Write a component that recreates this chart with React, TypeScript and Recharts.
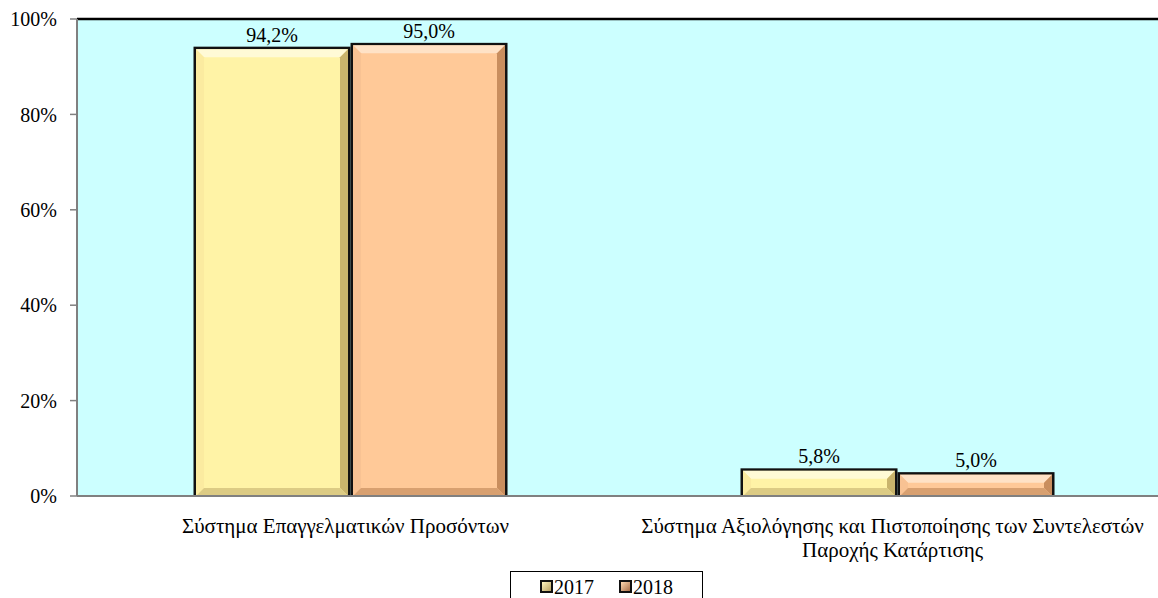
import React from 'react'
import {
  BarChart, Bar, XAxis, YAxis, CartesianGrid, Legend, LabelList, ReferenceLine,
} from 'recharts'

// ── Data ──────────────────────────────────────────────────────────────────────

const categories = [
  'Σύστημα Επαγγελματικών Προσόντων',
  'Σύστημα Αξιολόγησης και Πιστοποίησης των Συντελεστών Παροχής Κατάρτισης',
]
const values2017 = [94.2, 5.8]
const values2018 = [95.0, 5.0]
const yTicks = [0, 20, 40, 60, 80, 100]

const data = categories.map((c, i) => ({ name: c, y2017: values2017[i], y2018: values2018[i] }))

const FONT = 'Liberation Serif'
const FS = 20

const PALETTE = {
  y2017: { face: '#FFF3A6', light: '#FFFAD6', left: '#FBEBA0', right: '#C9B46C', bottom: '#DCCB84' },
  y2018: { face: '#FFC998', light: '#FFE2C6', left: '#F8C293', right: '#C98E5E', bottom: '#D8A070' },
}

const pct = (v: number) => v.toFixed(1).replace('.', ',') + '%'

// ── Bevelled bar ──────────────────────────────────────────────────────────────

function makeBevelBar(p: typeof PALETTE.y2017) {
  return (props: any) => {
    const { x, y, width, height } = props
    if (!width || height <= 0) return <g />
    const b = 2.5
    const ix = x + b, iy = y + b, iw = width - 2 * b, ih = height - b
    const bv = Math.min(8, iw / 4, ih / 2.5)
    return (
      <g>
        <rect x={x} y={y} width={width} height={height} fill="#111" />
        <rect x={ix} y={iy} width={iw} height={ih} fill={p.face} />
        <polygon points={`${ix},${iy} ${ix + iw},${iy} ${ix + iw - bv},${iy + bv} ${ix + bv},${iy + bv}`} fill={p.light} />
        <polygon points={`${ix},${iy} ${ix + bv},${iy + bv} ${ix + bv},${iy + ih - bv} ${ix},${iy + ih}`} fill={p.left} />
        <polygon points={`${ix + iw},${iy} ${ix + iw},${iy + ih} ${ix + iw - bv},${iy + ih - bv} ${ix + iw - bv},${iy + bv}`} fill={p.right} />
        <polygon points={`${ix},${iy + ih} ${ix + bv},${iy + ih - bv} ${ix + iw - bv},${iy + ih - bv} ${ix + iw},${iy + ih}`} fill={p.bottom} />
      </g>
    )
  }
}

// ── Axis tick with wrapped label ─────────────────────────────────────────────

function CategoryTick(props: any) {
  const { x, y, payload } = props
  const text: string = payload.value
  const lines = text.length > 40
    ? ['Σύστημα Αξιολόγησης και Πιστοποίησης των Συντελεστών', 'Παροχής Κατάρτισης']
    : [text]
  return (
    <g transform={`translate(${x - 5},${y})`}>
      <text textAnchor="middle" fontFamily={FONT} fontSize={21} fill="#000">
        {lines.map((l, i) => (
          <tspan key={i} x={0} dy={i === 0 ? 29 : 24}>{l}</tspan>
        ))}
      </text>
    </g>
  )
}

function LegendBox() {
  const item = (label: string, grad: string, ml: number) => (
    <span style={{ display: 'inline-flex', alignItems: 'center', marginLeft: ml }}>
      <span style={{
        width: 9, height: 9, border: '2px solid #111', background: grad,
        display: 'inline-block', marginRight: 1,
      }} />
      {label}
    </span>
  )
  return (
    <div style={{ position: 'relative', height: 34 }}>
      <div style={{
        position: 'absolute', left: 510, top: 0, width: 193, height: 40,
        border: '1px solid #000', boxSizing: 'border-box', paddingTop: 2,
        fontFamily: FONT, fontSize: FS, lineHeight: '24px', color: '#000', whiteSpace: 'nowrap',
      }}>
        {item('2017', 'linear-gradient(135deg, #fff6c0, #b8a060)', 29)}
        {item('2018', 'linear-gradient(135deg, #ffd8b0, #a86e48)', 25)}
      </div>
    </div>
  )
}

// ── Chart ─────────────────────────────────────────────────────────────────────

export default function App() {
  return (
    <div style={{ position: 'absolute', left: 0, top: 0, width: 1158, height: 598, background: '#fff', overflow: 'hidden' }}>
      <BarChart
        width={1158}
        height={612}
        data={data}
        barCategoryGap="21.3%"
        barGap={0}
        margin={{ top: 19, right: -13, left: 0, bottom: 0 }}
      >
        <CartesianGrid horizontal={false} vertical={false} fill="#CCFFFF" />
        <XAxis xAxisId="bound" type="number" domain={[0, 2]} ticks={[0, 1, 2]} height={0}
          tick={false} tickLine={{ stroke: '#808080', strokeWidth: 1.5 }} tickSize={7} axisLine={false} />
        <XAxis dataKey="name" interval={0} height={82} tick={<CategoryTick />}
          tickLine={false} axisLine={{ stroke: '#808080', strokeWidth: 2 }} />
        <YAxis
          domain={[0, 100]}
          ticks={yTicks}
          width={77}
          tickFormatter={(v: number) => `${v}%`}
          tick={{ fontFamily: FONT, fontSize: FS, fill: '#000' }}
          tickLine={{ stroke: '#808080', strokeWidth: 1.5 }}
          tickSize={7}
          tickMargin={13}
          axisLine={{ stroke: '#808080', strokeWidth: 2 }}
        />
        <ReferenceLine y={100} stroke="#000" strokeWidth={2.5} />
        <Legend verticalAlign="bottom" content={<LegendBox />} wrapperStyle={{ bottom: 7, left: 0, width: 1158 }} />
        <Bar dataKey="y2017" name="2017" shape={makeBevelBar(PALETTE.y2017)} isAnimationActive={false}>
          <LabelList dataKey="y2017" position="top" offset={5} formatter={pct}
            style={{ fontFamily: FONT, fontSize: FS, fill: '#000' }} />
        </Bar>
        <Bar dataKey="y2018" name="2018" shape={makeBevelBar(PALETTE.y2018)} isAnimationActive={false}>
          <LabelList dataKey="y2018" position="top" offset={5} formatter={pct}
            style={{ fontFamily: FONT, fontSize: FS, fill: '#000' }} />
        </Bar>
      </BarChart>
    </div>
  )
}
